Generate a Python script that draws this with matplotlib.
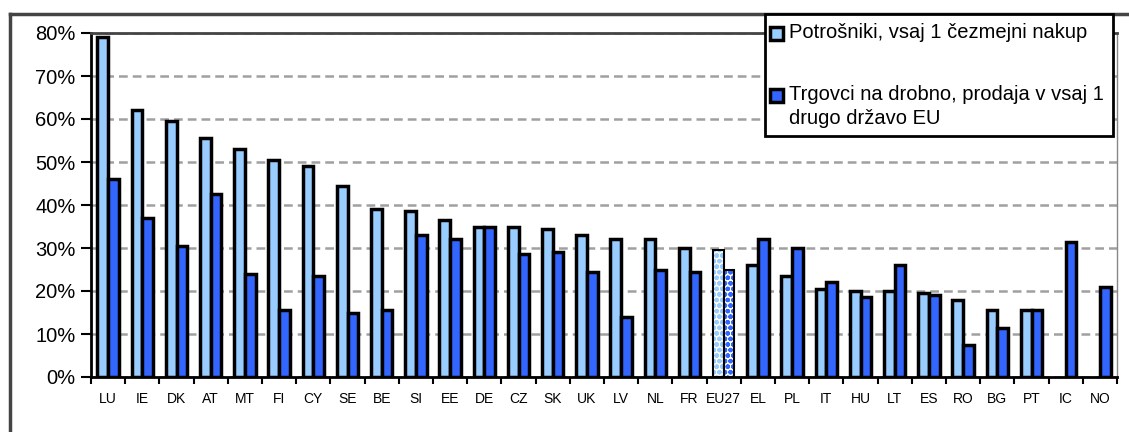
import matplotlib.pyplot as plt
import numpy as np
from matplotlib.lines import Line2D
from matplotlib.patches import Rectangle

plt.rcParams["font.family"] = ["Liberation Sans", "DejaVu Sans"]
plt.rcParams["hatch.linewidth"] = 1.6

countries = [
    "LU", "IE", "DK", "AT", "MT", "FI", "CY", "SE", "BE", "SI",
    "EE", "DE", "CZ", "SK", "UK", "LV", "NL", "FR", "EU27", "EL",
    "PL", "IT", "HU", "LT", "ES", "RO", "BG", "PT", "IC", "NO",
]
consumers = [
    79, 62, 59.5, 55.5, 53, 50.5, 49, 44.5, 39, 38.5,
    36.5, 35, 35, 34.5, 33, 32, 32, 30, 29.5, 26,
    23.5, 20.5, 20, 20, 19.5, 18, 15.5, 15.5, np.nan, np.nan,
]
retailers = [
    46, 37, 30.5, 42.5, 24, 15.5, 23.5, 15, 15.5, 33,
    32, 35, 28.5, 29, 24.5, 14, 25, 24.5, 25, 32,
    30, 22, 18.5, 26, 19, 7.5, 11.5, 15.5, 31.5, 21,
]
yticks = [0, 10, 20, 30, 40, 50, 60, 70, 80]
label_consumers = "Potrošniki, vsaj 1 čezmejni nakup"
label_retailers = ["Trgovci na drobno, prodaja v vsaj 1", "drugo državo EU"]

LIGHT = "#99ccff"
DARK = "#3366ff"
W, H = 1129, 432


def fx(px):
    return px / W


def fy(py):
    return 1 - py / H


fig = plt.figure(figsize=(W / 100, H / 100), dpi=100)
ax = fig.add_axes([fx(91), fy(377), (1117 - 91) / W, (377 - 33) / H])

x = np.arange(len(countries))
bw = 0.31
is_avg = np.array([c == "EU27" for c in countries])

cons = np.array(consumers, dtype=float)
ret = np.array(retailers, dtype=float)

for vals, off, color in [(cons, -bw / 2, LIGHT), (ret, bw / 2, DARK)]:
    ax.bar(x[~is_avg] + off, vals[~is_avg], bw, color=color,
           edgecolor="black", linewidth=2.5, zorder=3)
    # EU average drawn with a dotted fill
    ax.bar(x[is_avg] + off, vals[is_avg], bw, color="white",
           edgecolor=color, hatch="ooo", linewidth=0, zorder=3)
    ax.bar(x[is_avg] + off, vals[is_avg], bw, fill=False,
           edgecolor="black", linewidth=1.5, zorder=4)

ax.set_xlim(-0.5, len(countries) - 0.5)
ax.set_ylim(0, 80)
ax.set_yticks(yticks)
ax.set_yticklabels([f"{t}%" for t in yticks], fontsize=14.5)
ax.yaxis.grid(True, linestyle=(0, (3.5, 2)), color="#a0a0a0", linewidth=1.8, zorder=0)

ax.set_xticks(x)
ax.set_xticklabels(countries, fontsize=10)
ax.tick_params(axis="x", length=0, pad=11)
ax.set_xticks(np.arange(len(countries) + 1) - 0.5, minor=True)
ax.tick_params(axis="x", which="minor", length=5, width=1.5, direction="out")
ax.tick_params(axis="y", length=7, width=1.5, direction="out", pad=4)

for side in ["left", "bottom"]:
    ax.spines[side].set_linewidth(2)
    ax.spines[side].set_color("black")
ax.spines["top"].set_linewidth(2)
ax.spines["top"].set_color("#444444")
ax.spines["right"].set_linewidth(1)
ax.spines["right"].set_color("#888888")

# outer frame, top and left edges
fig.add_artist(Line2D([fx(10), 1.0], [fy(14)] * 2, color="#444444", lw=2.5))
fig.add_artist(Line2D([fx(10)] * 2, [0.0, fy(14)], color="#444444", lw=2.5))

# legend box
fig.add_artist(Rectangle((fx(765), fy(136)), (1113 - 765) / W, (136 - 14) / H,
                         facecolor="white", edgecolor="black", lw=2, zorder=10))
entries = [
    (LIGHT, 33, [label_consumers]),
    (DARK, 95, label_retailers),
]
for color, yc, lines in entries:
    fig.add_artist(Rectangle((fx(770), fy(yc + 6.5)), 13 / W, 13 / H,
                             facecolor=color, edgecolor="black", lw=2.5, zorder=11))
    for i, line in enumerate(lines):
        fig.text(fx(789), fy(yc + 23 * i), line, fontsize=14.5,
                 ha="left", va="center", zorder=12)

fig.savefig("out.png", dpi=100)
